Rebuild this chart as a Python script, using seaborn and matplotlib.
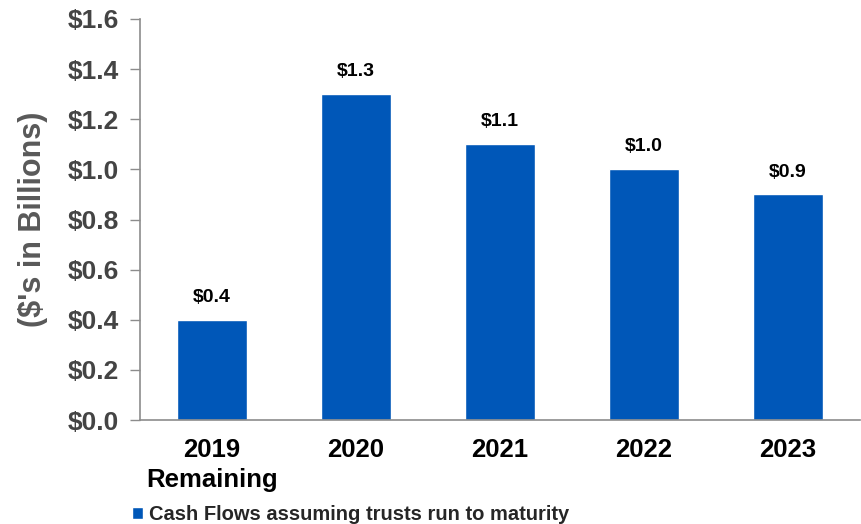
import matplotlib
matplotlib.use("Agg")
import matplotlib.pyplot as plt
import seaborn as sns
import numpy as np
from matplotlib.ticker import FixedLocator

categories = ["2019\nRemaining", "2020", "2021", "2022", "2023"]
values = [0.4, 1.3, 1.1, 1.0, 0.9]
value_labels = ["$0.4", "$1.3", "$1.1", "$1.0", "$0.9"]
yticks = [0.0, 0.2, 0.4, 0.6, 0.8, 1.0, 1.2, 1.4, 1.6]
ytick_labels = ["$0.0", "$0.2", "$0.4", "$0.6", "$0.8", "$1.0", "$1.2", "$1.4", "$1.6"]
series_name = "Cash Flows assuming trusts run to maturity"

sns.set_theme(style="white")
plt.rcParams["font.family"] = ["Liberation Sans", "DejaVu Sans"]

BLUE = "#0057B8"
GREY = "#444444"
LGREY = "#595959"
SPINE = "#8c8c8c"

fig = plt.figure(figsize=(8.61, 5.24), dpi=100)
ax = fig.add_axes([140 / 861, 1 - 420 / 524, 720 / 861, (420 - 19) / 524])

sns.barplot(x=categories, y=values, color=BLUE, width=0.49, saturation=1,
            label=series_name, ax=ax, legend=False)

ax.set_xlim(-0.5, len(categories) - 0.5)
ax.set_ylim(0, 1.6)
ax.set_yticks(yticks)
ax.set_yticklabels(ytick_labels, fontsize=19, fontweight="bold", color=GREY)
ax.set_xticks(range(len(categories)))
ax.set_xticklabels(categories, fontsize=18.5, fontweight="bold", color="black",
                   linespacing=1.32, va="top")
ax.xaxis.set_minor_locator(FixedLocator(np.arange(-0.5, len(categories), 1.0)))
ax.tick_params(axis="x", which="major", length=0, pad=13)
ax.tick_params(axis="x", which="minor", length=7, width=1, color=SPINE, direction="out")
ax.tick_params(axis="y", which="major", length=7, width=1, color=SPINE, direction="out", pad=8, left=True)

for s in ["top", "right"]:
    ax.spines[s].set_visible(False)
for s in ["left", "bottom"]:
    ax.spines[s].set_color(SPINE)
    ax.spines[s].set_linewidth(1.2)

ax.set_ylabel("($'s in Billions)", fontsize=22, fontweight="bold", color=LGREY)
ax.yaxis.set_label_coords(-0.128, 0.5)
ax.set_xlabel("")

for i, (v, lab) in enumerate(zip(values, value_labels)):
    ax.annotate(lab, (i, v), xytext=(0, 10), textcoords="offset points",
                ha="center", va="bottom", fontsize=14, fontweight="bold", color="black")

handles, labels = ax.get_legend_handles_labels()
leg = fig.legend(handles[:1], labels[:1], loc="lower left",
                 bbox_to_anchor=(114 / 861, -0.035), frameon=False,
                 handlelength=0.55, handleheight=0.55, handletextpad=0.3,
                 prop={"size": 14.5, "weight": "bold"})

fig.savefig("out.png", dpi=100)
